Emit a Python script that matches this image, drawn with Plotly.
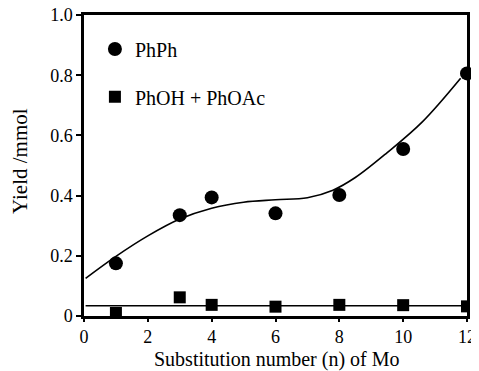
import plotly.graph_objects as go

n_values = [1, 3, 4, 6, 8, 10, 12]
phph_yield = [0.175, 0.335, 0.394, 0.341, 0.402, 0.555, 0.806]
phoh_yield = [0.010, 0.062, 0.037, 0.031, 0.037, 0.036, 0.032]

# fitted trend curves
phph_fit_n = [0.05, 1, 2, 3, 4, 5, 6, 7, 7.8, 8.5, 9.5, 10.6, 11.8]
phph_fit_yield = [0.125, 0.198, 0.266, 0.322, 0.358, 0.378, 0.386, 0.393, 0.418, 0.46, 0.543, 0.645, 0.79]
phoh_fit_n = [0.05, 12]
phoh_fit_yield = [0.034, 0.034]

y_tick_vals = [0, 0.2, 0.4, 0.6, 0.8, 1.0]
y_tick_text = ["0", "0.2", "0.4", "0.6", "0.8", "1.0"]
x_tick_vals = [0, 2, 4, 6, 8, 10, 12]
x_title = "Substitution number (n) of Mo"
y_title = "Yield /mmol"

FONT = "Liberation Serif, Times New Roman, serif"

fig = go.Figure()
fig.add_trace(go.Scatter(x=phph_fit_n, y=phph_fit_yield, mode="lines",
                         line=dict(color="black", width=1.6, shape="spline", smoothing=1.0),
                         showlegend=False, hoverinfo="skip"))
fig.add_trace(go.Scatter(x=phoh_fit_n, y=phoh_fit_yield, mode="lines",
                         line=dict(color="black", width=1.6),
                         showlegend=False, hoverinfo="skip"))
fig.add_trace(go.Scatter(x=n_values, y=phph_yield, mode="markers", name="PhPh",
                         marker=dict(symbol="circle", size=14, color="black"),
                         cliponaxis=False, legend="legend"))
fig.add_trace(go.Scatter(x=n_values, y=phoh_yield, mode="markers", name="PhOH + PhOAc",
                         marker=dict(symbol="square", size=12, color="black"),
                         cliponaxis=True, legend="legend2"))

leg_common = dict(xanchor="left", yanchor="middle", bgcolor="rgba(0,0,0,0)",
                  font=dict(family=FONT, size=20, color="black"), itemwidth=30)

fig.update_layout(
    width=471, height=363,
    margin=dict(l=76, r=12, t=7, b=55),
    paper_bgcolor="white", plot_bgcolor="white",
    font=dict(family=FONT, size=18, color="black"),
    legend=dict(x=0.0285, y=0.887, **leg_common),
    legend2=dict(x=0.0285, y=0.728, **leg_common),
    xaxis=dict(range=[0, 12], tickvals=x_tick_vals, showgrid=False, zeroline=False,
               showline=True, linecolor="black", linewidth=2.5, mirror=True,
               ticks="outside", ticklen=3, tickwidth=1.5, tickcolor="black",
               automargin=False, ticklabeloverflow="allow",
               tickfont=dict(family=FONT, size=18)),
    yaxis=dict(range=[0, 1.0], tickvals=y_tick_vals, ticktext=y_tick_text, showgrid=False, zeroline=False,
               showline=True, linecolor="black", linewidth=2.5, mirror=True,
               ticks="outside", ticklen=5, tickwidth=1.5, tickcolor="black",
               automargin=False, ticklabeloverflow="allow",
               tickfont=dict(family=FONT, size=18)),
    annotations=[
        dict(text=x_title, xref="paper", yref="paper", x=0.505, y=-0.146,
             xanchor="center", yanchor="middle", showarrow=False,
             font=dict(family=FONT, size=20, color="black")),
        dict(text=y_title, xref="paper", yref="paper", x=-0.167, y=0.515,
             xanchor="center", yanchor="middle", showarrow=False, textangle=-90,
             font=dict(family=FONT, size=21, color="black")),
    ],
)

fig.write_html("out.html", default_width="471px", default_height="363px")
